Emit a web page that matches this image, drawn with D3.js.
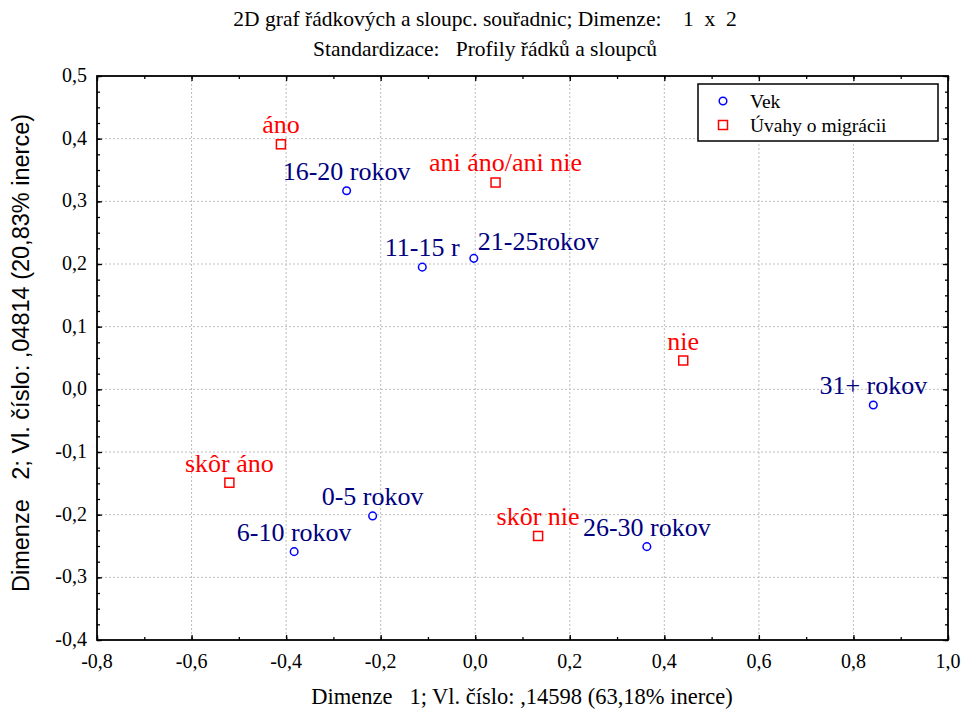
<!DOCTYPE html>
<html>
<head>
<meta charset="utf-8">
<script src="https://cdn.jsdelivr.net/npm/d3@7"></script>
<style>
  body { margin: 0; background: #fff; }
  svg { display: block; }
  text { white-space: pre; }
</style>
</head>
<body>
<svg id="canvas" width="964" height="710"></svg>
<script>
// row points (Vek)
let vekNames = ["0-5 rokov", "6-10 rokov", "11-15 r", "16-20 rokov", "21-25rokov", "26-30 rokov", "31+ rokov"]
let vekDim1 = [-0.217, -0.383, -0.112, -0.272, -0.003, 0.363, 0.842]
let vekDim2 = [-0.202, -0.259, 0.195, 0.317, 0.209, -0.251, -0.025]

// column points (Úvahy o migrácii)
let uvahyNames = ["áno", "skôr áno", "ani áno/ani nie", "skôr nie", "nie"]
let uvahyDim1 = [-0.411, -0.520, 0.043, 0.133, 0.440]
let uvahyDim2 = [0.391, -0.149, 0.330, -0.234, 0.046]

let xTicks = [-0.8, -0.6, -0.4, -0.2, 0.0, 0.2, 0.4, 0.6, 0.8, 1.0]
let yTicks = [-0.4, -0.3, -0.2, -0.1, 0.0, 0.1, 0.2, 0.3, 0.4, 0.5]

let titleLines = ["2D graf řádkových a sloupc. souřadnic; Dimenze:    1  x  2",
                  "Standardizace:   Profily řádků a sloupců"]
let xTitle = "Dimenze   1; Vl. číslo: ,14598 (63,18% inerce)"
let yTitle = "Dimenze   2; Vl. číslo: ,04814 (20,83% inerce)"

let canvas = d3.select("#canvas")
let serif = "'Liberation Serif', 'Times New Roman', serif"
let sans = "'Liberation Sans', Arial, sans-serif"

let plotLeft = 97, plotRight = 948, plotTop = 76, plotBottom = 640

let xScale = d3.scaleLinear().domain([-0.8, 1.0]).range([plotLeft, plotRight])
let yScale = d3.scaleLinear().domain([-0.4, 0.5]).range([plotBottom, plotTop])

let fmt = (v) => d3.format(".1f")(v).replace(".", ",").replace("−", "-")

// some labels were nudged by hand in the original
let labelShift = {
    "21-25rokov": {anchor: "start", dx: 4, dy: -8},
    "ani áno/ani nie": {anchor: "middle", dx: 10, dy: -12}
}

// grid
canvas.append("g")
    .selectAll("line")
    .data(xTicks.slice(1, -1))
    .enter()
    .append("line")
    .attr("x1", d => xScale(d)).attr("x2", d => xScale(d))
    .attr("y1", plotTop).attr("y2", plotBottom)
    .attr("stroke", "#bdbdbd").attr("stroke-dasharray", "2,2")

canvas.append("g")
    .selectAll("line")
    .data(yTicks.slice(1, -1))
    .enter()
    .append("line")
    .attr("y1", d => yScale(d)).attr("y2", d => yScale(d))
    .attr("x1", plotLeft).attr("x2", plotRight)
    .attr("stroke", "#bdbdbd").attr("stroke-dasharray", "2,2")

// axes with inward ticks on all four sides
let xMinor = d3.range(-0.8, 1.0001, 0.1)
let yMinor = d3.range(-0.4, 0.5001, 0.025)

let drawAxis = (axis, tr) => {
    canvas.append("g")
        .attr("transform", tr)
        .call(axis)
        .call(g => g.select(".domain").remove())
        .call(g => g.selectAll("line").attr("stroke", "#000").attr("stroke-width", 1.3))
}

drawAxis(d3.axisBottom(xScale).tickValues(xMinor).tickSize(-3).tickFormat(""), `translate(0,${plotBottom})`)
drawAxis(d3.axisTop(xScale).tickValues(xMinor).tickSize(-3).tickFormat(""), `translate(0,${plotTop})`)
drawAxis(d3.axisLeft(yScale).tickValues(yMinor).tickSize(-3).tickFormat(""), `translate(${plotLeft},0)`)
drawAxis(d3.axisRight(yScale).tickValues(yMinor).tickSize(-3).tickFormat(""), `translate(${plotRight},0)`)
drawAxis(d3.axisBottom(xScale).tickValues(xTicks).tickSize(-5).tickFormat(""), `translate(0,${plotBottom})`)
drawAxis(d3.axisTop(xScale).tickValues(xTicks).tickSize(-5).tickFormat(""), `translate(0,${plotTop})`)
drawAxis(d3.axisLeft(yScale).tickValues(yTicks).tickSize(-5).tickFormat(""), `translate(${plotLeft},0)`)
drawAxis(d3.axisRight(yScale).tickValues(yTicks).tickSize(-5).tickFormat(""), `translate(${plotRight},0)`)

// tick labels
canvas.append("g")
    .selectAll("text")
    .data(xTicks)
    .enter()
    .append("text")
    .attr("x", d => xScale(d))
    .attr("y", 668)
    .attr("text-anchor", "middle")
    .attr("font-family", serif).attr("font-size", 20)
    .text(d => fmt(d))

canvas.append("g")
    .selectAll("text")
    .data(yTicks)
    .enter()
    .append("text")
    .attr("x", 87)
    .attr("y", d => yScale(d) + 6)
    .attr("text-anchor", "end")
    .attr("font-family", serif).attr("font-size", 20)
    .text(d => fmt(d))

// frame
canvas.append("rect")
    .attr("x", plotLeft).attr("y", plotTop)
    .attr("width", plotRight - plotLeft).attr("height", plotBottom - plotTop)
    .attr("fill", "none").attr("stroke", "#000").attr("stroke-width", 1.8)

// titles
canvas.selectAll(".title")
    .data(titleLines)
    .enter()
    .append("text")
    .attr("class", "title")
    .attr("x", 485)
    .attr("y", (d, i) => 26 + i * 30)
    .attr("text-anchor", "middle")
    .attr("font-family", serif).attr("font-size", 21.5)
    .text(d => d)

canvas.append("text")
    .attr("x", 522).attr("y", 704)
    .attr("text-anchor", "middle")
    .attr("font-family", serif).attr("font-size", 22.5)
    .text(xTitle)

canvas.append("text")
    .attr("transform", "translate(29,353) rotate(-90)")
    .attr("text-anchor", "middle")
    .attr("font-family", sans).attr("font-size", 23.5)
    .text(yTitle)

// points
let vekData = vekNames.map((n, i) => ({name: n, x: vekDim1[i], y: vekDim2[i]}))
let uvahyData = uvahyNames.map((n, i) => ({name: n, x: uvahyDim1[i], y: uvahyDim2[i]}))

let drawLabels = (data, color) => {
    canvas.append("g")
        .selectAll("text")
        .data(data)
        .enter()
        .append("text")
        .attr("x", d => xScale(d.x) + (labelShift[d.name] ? labelShift[d.name].dx : 0))
        .attr("y", d => yScale(d.y) + (labelShift[d.name] ? labelShift[d.name].dy : -11))
        .attr("text-anchor", d => labelShift[d.name] ? labelShift[d.name].anchor : "middle")
        .attr("font-family", serif).attr("font-size", 26)
        .attr("fill", color)
        .text(d => d.name)
}

drawLabels(vekData, "#000080")
drawLabels(uvahyData, "#ff0000")

canvas.append("g")
    .selectAll("circle")
    .data(vekData)
    .enter()
    .append("circle")
    .attr("cx", d => xScale(d.x))
    .attr("cy", d => yScale(d.y))
    .attr("r", 3.8)
    .attr("fill", "#fff").attr("stroke", "#0000ff").attr("stroke-width", 1.5)

canvas.append("g")
    .selectAll("rect")
    .data(uvahyData)
    .enter()
    .append("rect")
    .attr("x", d => xScale(d.x) - 4.5)
    .attr("y", d => yScale(d.y) - 4.5)
    .attr("width", 9).attr("height", 9)
    .attr("fill", "#fff").attr("stroke", "#ff0000").attr("stroke-width", 1.5)

// legend
let legend = canvas.append("g")
legend.append("rect")
    .attr("x", 698).attr("y", 84).attr("width", 240).attr("height", 57)
    .attr("fill", "#fff").attr("stroke", "#000").attr("stroke-width", 1.5)
legend.append("circle")
    .attr("cx", 723).attr("cy", 101).attr("r", 3.8)
    .attr("fill", "#fff").attr("stroke", "#0000ff").attr("stroke-width", 1.5)
legend.append("rect")
    .attr("x", 718.5).attr("y", 120.5).attr("width", 9).attr("height", 9)
    .attr("fill", "#fff").attr("stroke", "#ff0000").attr("stroke-width", 1.5)
legend.append("text")
    .attr("x", 750).attr("y", 108)
    .attr("font-family", serif).attr("font-size", 19.5)
    .text("Vek")
legend.append("text")
    .attr("x", 750).attr("y", 132)
    .attr("font-family", serif).attr("font-size", 19.5)
    .text("Úvahy o migrácii")
</script>
</body>
</html>
